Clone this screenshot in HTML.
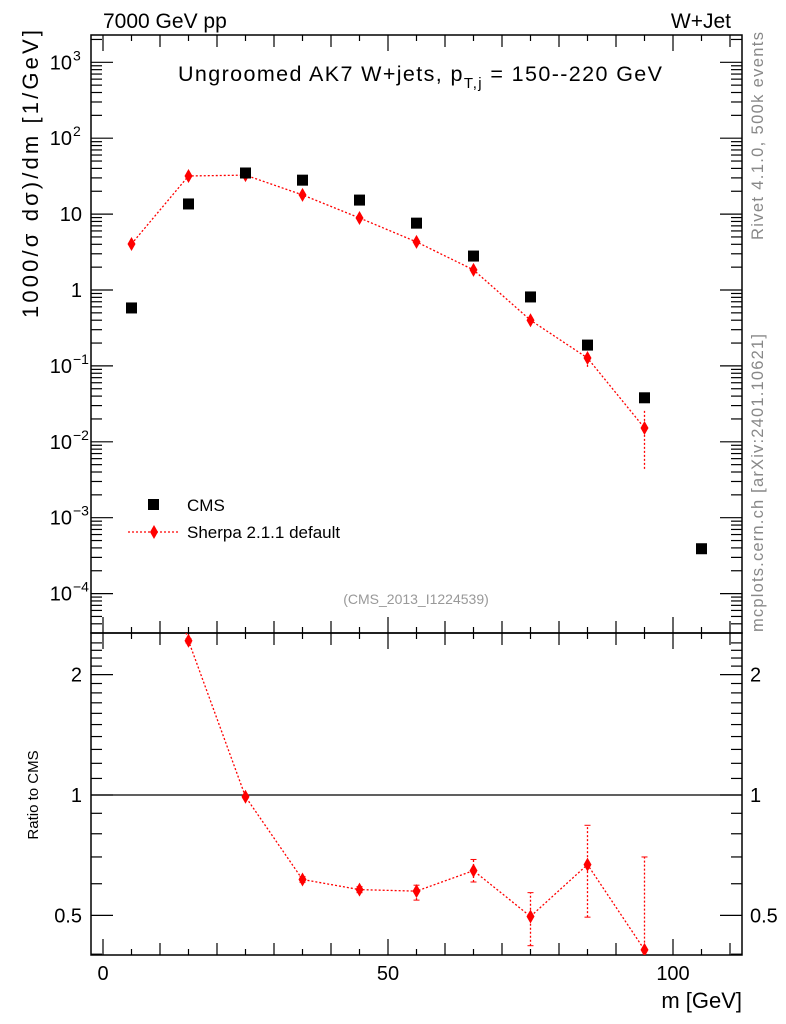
<!DOCTYPE html>
<html><head><meta charset="utf-8"><style>
body{margin:0;background:#fff}
svg{display:block;font-family:"Liberation Sans",sans-serif}
</style></head><body>
<svg id="c" width="786" height="1024" viewBox="0 0 786 1024" xmlns="http://www.w3.org/2000/svg">
<g id="g"></g>
<text x="103" y="28" font-size="21">7000 GeV pp</text>
<text x="731" y="28" font-size="21" text-anchor="end">W+Jet</text>
<text x="178" y="81" font-size="21.5" textLength="484">Ungroomed AK7 W+jets, p<tspan font-size="15" dy="7">T,j</tspan><tspan dy="-7"> = 150--220 GeV</tspan></text>
<text x="416" y="604" font-size="14" fill="#999" text-anchor="middle">(CMS_2013_I1224539)</text>
<text transform="translate(38,318) rotate(-90)" font-size="22" textLength="288">1000/σ   dσ)/dm [1/GeV]</text>
<text transform="translate(38,795) rotate(-90)" font-size="15" text-anchor="middle">Ratio to CMS</text>
<text x="742" y="1008" font-size="22" text-anchor="end">m [GeV]</text>
<text transform="translate(763,240) rotate(-90)" font-size="16.5" fill="#888" textLength="208">Rivet 4.1.0,  500k events</text>
<text transform="translate(763,632) rotate(-90)" font-size="16.5" fill="#888" textLength="298">mcplots.cern.ch [arXiv:2401.10621]</text>
<rect x="148" y="499" width="11" height="11" fill="#000"/>
<text x="187" y="511" font-size="17">CMS</text>
<line x1="128" y1="532" x2="180" y2="532" stroke="red" stroke-width="1.3" stroke-dasharray="2,2"/>
<path d="M154,525 L158,532 L154,539 L150,532Z" fill="red"/>
<text x="187" y="538" font-size="17">Sherpa 2.1.1 default</text>
</svg>
<script>
const xBins=[5,15,25,35,45,55,65,75,85,95,105];
const cmsVals=[0.58,13.6,34.8,28,15.3,7.6,2.8,0.81,0.188,0.038,0.00039];
const sherpaX=[5,15,25,35,45,55,65,75,85,95];
const sherpaVals=[4.04,31.8,32.6,17.9,8.9,4.3,1.84,0.40,0.127,0.0152];
const sherpaErrLo=[4.0,31.5,32.3,17.7,8.8,4.2,1.8,0.38,0.097,0.0044];
const sherpaErrHi=[4.1,32.1,32.9,18.1,9.0,4.4,1.88,0.42,0.155,0.026];
const ratioX=[15,25,35,45,55,65,75,85,95];
const ratioVals=[2.43,0.99,0.615,0.58,0.575,0.647,0.497,0.67,0.41];
const ratioLo=[2.4,0.98,0.605,0.57,0.546,0.606,0.42,0.495,0.39];
const ratioHi=[2.46,1.0,0.625,0.59,0.595,0.69,0.57,0.84,0.70];
const xTicks=[0,50,100];
const yTicks=[[1e3,'10','3'],[1e2,'10','2'],[10,'10',''],[1,'1',''],[0.1,'10','−1'],[0.01,'10','−2'],[1e-3,'10','−3'],[1e-4,'10','−4']];
const rTicks=[[2,'2'],[1,'1'],[0.5,'0.5']];

const NS='http://www.w3.org/2000/svg';
const g=document.getElementById('g');
const L=91,R=742,T=35,M=633,B=955;
const X=v=>103+(v)*5.7;
const Y=v=>290-Math.log10(v)*75.9;
const RY=v=>795-Math.log10(v)*400;
function mk(t,a,parent){const e=document.createElementNS(NS,t);for(const k in a)e.setAttribute(k,a[k]);(parent||g).appendChild(e);return e;}
const defs=mk('defs',{});
const c1=mk('clipPath',{id:'cm'},defs);mk('rect',{x:L,y:T,width:R-L,height:M-T},c1);
const c2=mk('clipPath',{id:'cr'},defs);mk('rect',{x:L,y:M,width:R-L,height:B-M},c2);
let e=mk('rect',{x:L,y:T,width:R-L,height:M-T,fill:'none',stroke:'#000','stroke-width':1.5});

e=mk('rect',{x:L,y:M,width:R-L,height:B-M,fill:'none',stroke:'#000','stroke-width':1.5});

for(let v=0;v<=110;v+=5){const x=X(v);const big=v%50===0?16:(v%10===0?12:6);
 for(const [y0,d] of [[T,1],[M,-1],[M,1],[B,-1]]){mk('line',{x1:x,x2:x,y1:y0,y2:y0+d*big,stroke:'#000','stroke-width':1.2});}}
for(const v of xTicks){e=mk('text',{x:X(v),y:980,'font-size':20,'text-anchor':'middle'});e.textContent=v;
 }
for(let p=-5;p<=3;p++){for(let m=1;m<=9;m++){const v=m*Math.pow(10,p);const y=Y(v);if(y<T||y>M)continue;const len=m===1?22:11;
 mk('line',{x1:L,x2:L+len,y1:y,y2:y,stroke:'#000','stroke-width':1.2});mk('line',{x1:R,x2:R-len,y1:y,y2:y,stroke:'#000','stroke-width':1.2});}}
for(const [v,b,s] of yTicks){e=mk('text',{x:s?72:82,y:Y(v)+7,'font-size':20,'text-anchor':'end'});e.textContent=b;
 
 if(s){const t=mk('text',{x:73,y:Y(v)-2,'font-size':14});t.textContent=s;}}
for(let v=0.4;v<=2.5;v+=0.1){const y=RY(v);if(y<M||y>B)continue;const mj=[0.5,1,2].some(q=>Math.abs(q-v)<1e-6);const len=mj?22:11;
 mk('line',{x1:L,x2:L+len,y1:y,y2:y,stroke:'#000','stroke-width':1.2});mk('line',{x1:R,x2:R-len,y1:y,y2:y,stroke:'#000','stroke-width':1.2});}
for(const [v,s] of rTicks){e=mk('text',{x:82,y:RY(v)+7,'font-size':20,'text-anchor':'end'});e.textContent=s;
 
 const t=mk('text',{x:750,y:RY(v)+7,'font-size':20});t.textContent=s;}
mk('line',{x1:L,x2:R,y1:RY(1),y2:RY(1),stroke:'#000','stroke-width':1.3});
const gm=mk('g',{'clip-path':'url(#cm)'});
e=mk('polyline',{points:sherpaX.map((x,i)=>X(x)+','+Y(sherpaVals[i])).join(' '),fill:'none',stroke:'red','stroke-width':1.3,'stroke-dasharray':'2,2'},gm);

sherpaX.forEach((x,i)=>{mk('line',{x1:X(x),x2:X(x),y1:Y(sherpaErrLo[i]),y2:Y(sherpaErrHi[i]),stroke:'red','stroke-width':1.3,'stroke-dasharray':'2,2'},gm);
 const p=mk('path',{d:`M${X(x)},${Y(sherpaVals[i])-7}l4,7l-4,7l-4,-7z`,fill:'red'},gm);
 });
xBins.forEach((x,i)=>{const r=mk('rect',{x:X(x)-5.5,y:Y(cmsVals[i])-5.5,width:11,height:11,fill:'#000'},gm);
 });
const gr=mk('g',{'clip-path':'url(#cr)'});
e=mk('polyline',{points:[[5,7]].concat(ratioX.map((x,i)=>[x,ratioVals[i]])).map(p=>X(p[0])+','+RY(p[1])).join(' '),fill:'none',stroke:'red','stroke-width':1.3,'stroke-dasharray':'2,2'},gr);

ratioX.forEach((x,i)=>{mk('line',{x1:X(x),x2:X(x),y1:RY(ratioLo[i]),y2:RY(ratioHi[i]),stroke:'red','stroke-width':1.3,'stroke-dasharray':'2,2'},gr);
 for(const v of [ratioLo[i],ratioHi[i]])mk('line',{x1:X(x)-3,x2:X(x)+3,y1:RY(v),y2:RY(v),stroke:'red','stroke-width':1},gr);
 const p=mk('path',{d:`M${X(x)},${RY(ratioVals[i])-7}l4,7l-4,7l-4,-7z`,fill:'red'},gr);
 });
</script>
</body></html>
